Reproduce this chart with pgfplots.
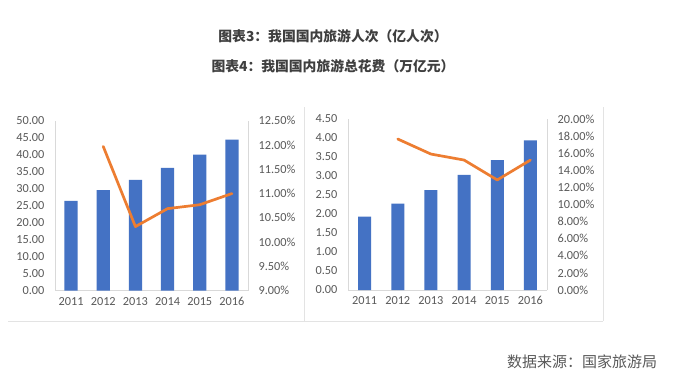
\documentclass[border=0pt]{standalone}
\usepackage{pgfplots}
\pgfplotsset{compat=1.18}
\usepackage{fontspec}
\setmainfont{Carlito}
\newfontfamily\cjk{Noto Sans CJK SC}
\definecolor{barblue}{HTML}{4472C4}
\definecolor{lineorange}{HTML}{ED7D31}
\definecolor{txtgray}{HTML}{595959}
\definecolor{axgray}{HTML}{D9D9D9}
\definecolor{framegray}{HTML}{E3E3E3}
\definecolor{titlegray}{HTML}{3F3F3F}
\pgfplotsset{
  base/.style={
    scale only axis,
    xmin=-0.5, xmax=5.5,
    xtick={0,1,2,3,4,5},
    xticklabels={2011,2012,2013,2014,2015,2016},
    major tick length=0pt,
    tick label style={font=\fontsize{12.3}{13}\selectfont, text=txtgray},
    /pgf/number format/assume math mode=true,
    axis line style={axgray, line width=0.8pt},
    clip=false,
  },
  leftax/.style={base,
    axis y line*=left, axis x line*=bottom,
    /pgf/number format/fixed, /pgf/number format/fixed zerofill, /pgf/number format/precision=2,
    yticklabel style={xshift=-7pt},
    xticklabel style={yshift=-3pt},
  },
  rightax/.style={base,
    axis y line*=right, axis x line=none,
    yticklabel={\pgfmathprintnumber[fixed,fixed zerofill,precision=2,assume math mode=true]{\tick}\%},
    yticklabel style={xshift=7pt},
  },
}
\begin{document}
\begin{tikzpicture}
\fill[white] (0pt,0pt) rectangle (674pt,-378pt);
% frames
\draw[framegray, line width=0.8pt] (8pt,-321pt) -- (603pt,-321pt);
\draw[framegray, line width=0.8pt] (304pt,-107pt) -- (304pt,-321pt);
\draw[framegray, line width=0.8pt] (603pt,-107pt) -- (603pt,-321pt);
% titles
\node[text=titlegray] at (333pt,-36pt) {\cjk\bfseries\fontsize{13.8}{14}\selectfont 图表3：我国国内旅游人次（亿人次）};
\node[text=titlegray] at (333pt,-66pt) {\cjk\bfseries\fontsize{13.8}{14}\selectfont 图表4：我国国内旅游总花费（万亿元）};
\node[text=txtgray] at (582pt,-362pt) {\cjk\fontsize{15}{16}\selectfont 数据来源：国家旅游局};

% left chart
\begin{axis}[leftax, at={(55pt,-290.7pt)}, anchor=south west, width=193pt, height=170pt,
  ymin=0, ymax=50, ytick={0,5,...,50}]
\addplot[ybar, bar width=13.3pt, fill=barblue, draw=none] coordinates {
 (0,26.41) (1,29.57) (2,32.62) (3,36.11) (4,40.00) (5,44.40)};
\end{axis}
\begin{axis}[rightax, at={(55pt,-290.7pt)}, anchor=south west, width=193pt, height=170pt,
  ymin=9, ymax=12.5, ytick={9,9.5,...,12.5}]
\addplot[lineorange, line width=2.7pt, line join=round, line cap=round, no markers] coordinates {
 (1,11.97) (2,10.32) (3,10.69) (4,10.77) (5,11.00)};
\end{axis}

% right chart
\begin{axis}[leftax, at={(348pt,-290pt)}, anchor=south west, width=199pt, height=171pt,
  ymin=0, ymax=4.5, ytick={0,0.5,...,4.5}]
\addplot[ybar, bar width=13pt, fill=barblue, draw=none] coordinates {
 (0,1.93) (1,2.27) (2,2.63) (3,3.03) (4,3.42) (5,3.94)};
\end{axis}
\begin{axis}[rightax, at={(348pt,-290pt)}, anchor=south west, width=199pt, height=171pt,
  ymin=0, ymax=20, ytick={0,2,...,20}]
\addplot[lineorange, line width=2.7pt, line join=round, line cap=round, no markers] coordinates {
 (1,17.66) (2,15.90) (3,15.20) (4,12.87) (5,15.20)};
\end{axis}
\pgfresetboundingbox
\path[use as bounding box] (0pt,0pt) rectangle (674pt,-378pt);
\end{tikzpicture}
\end{document}
